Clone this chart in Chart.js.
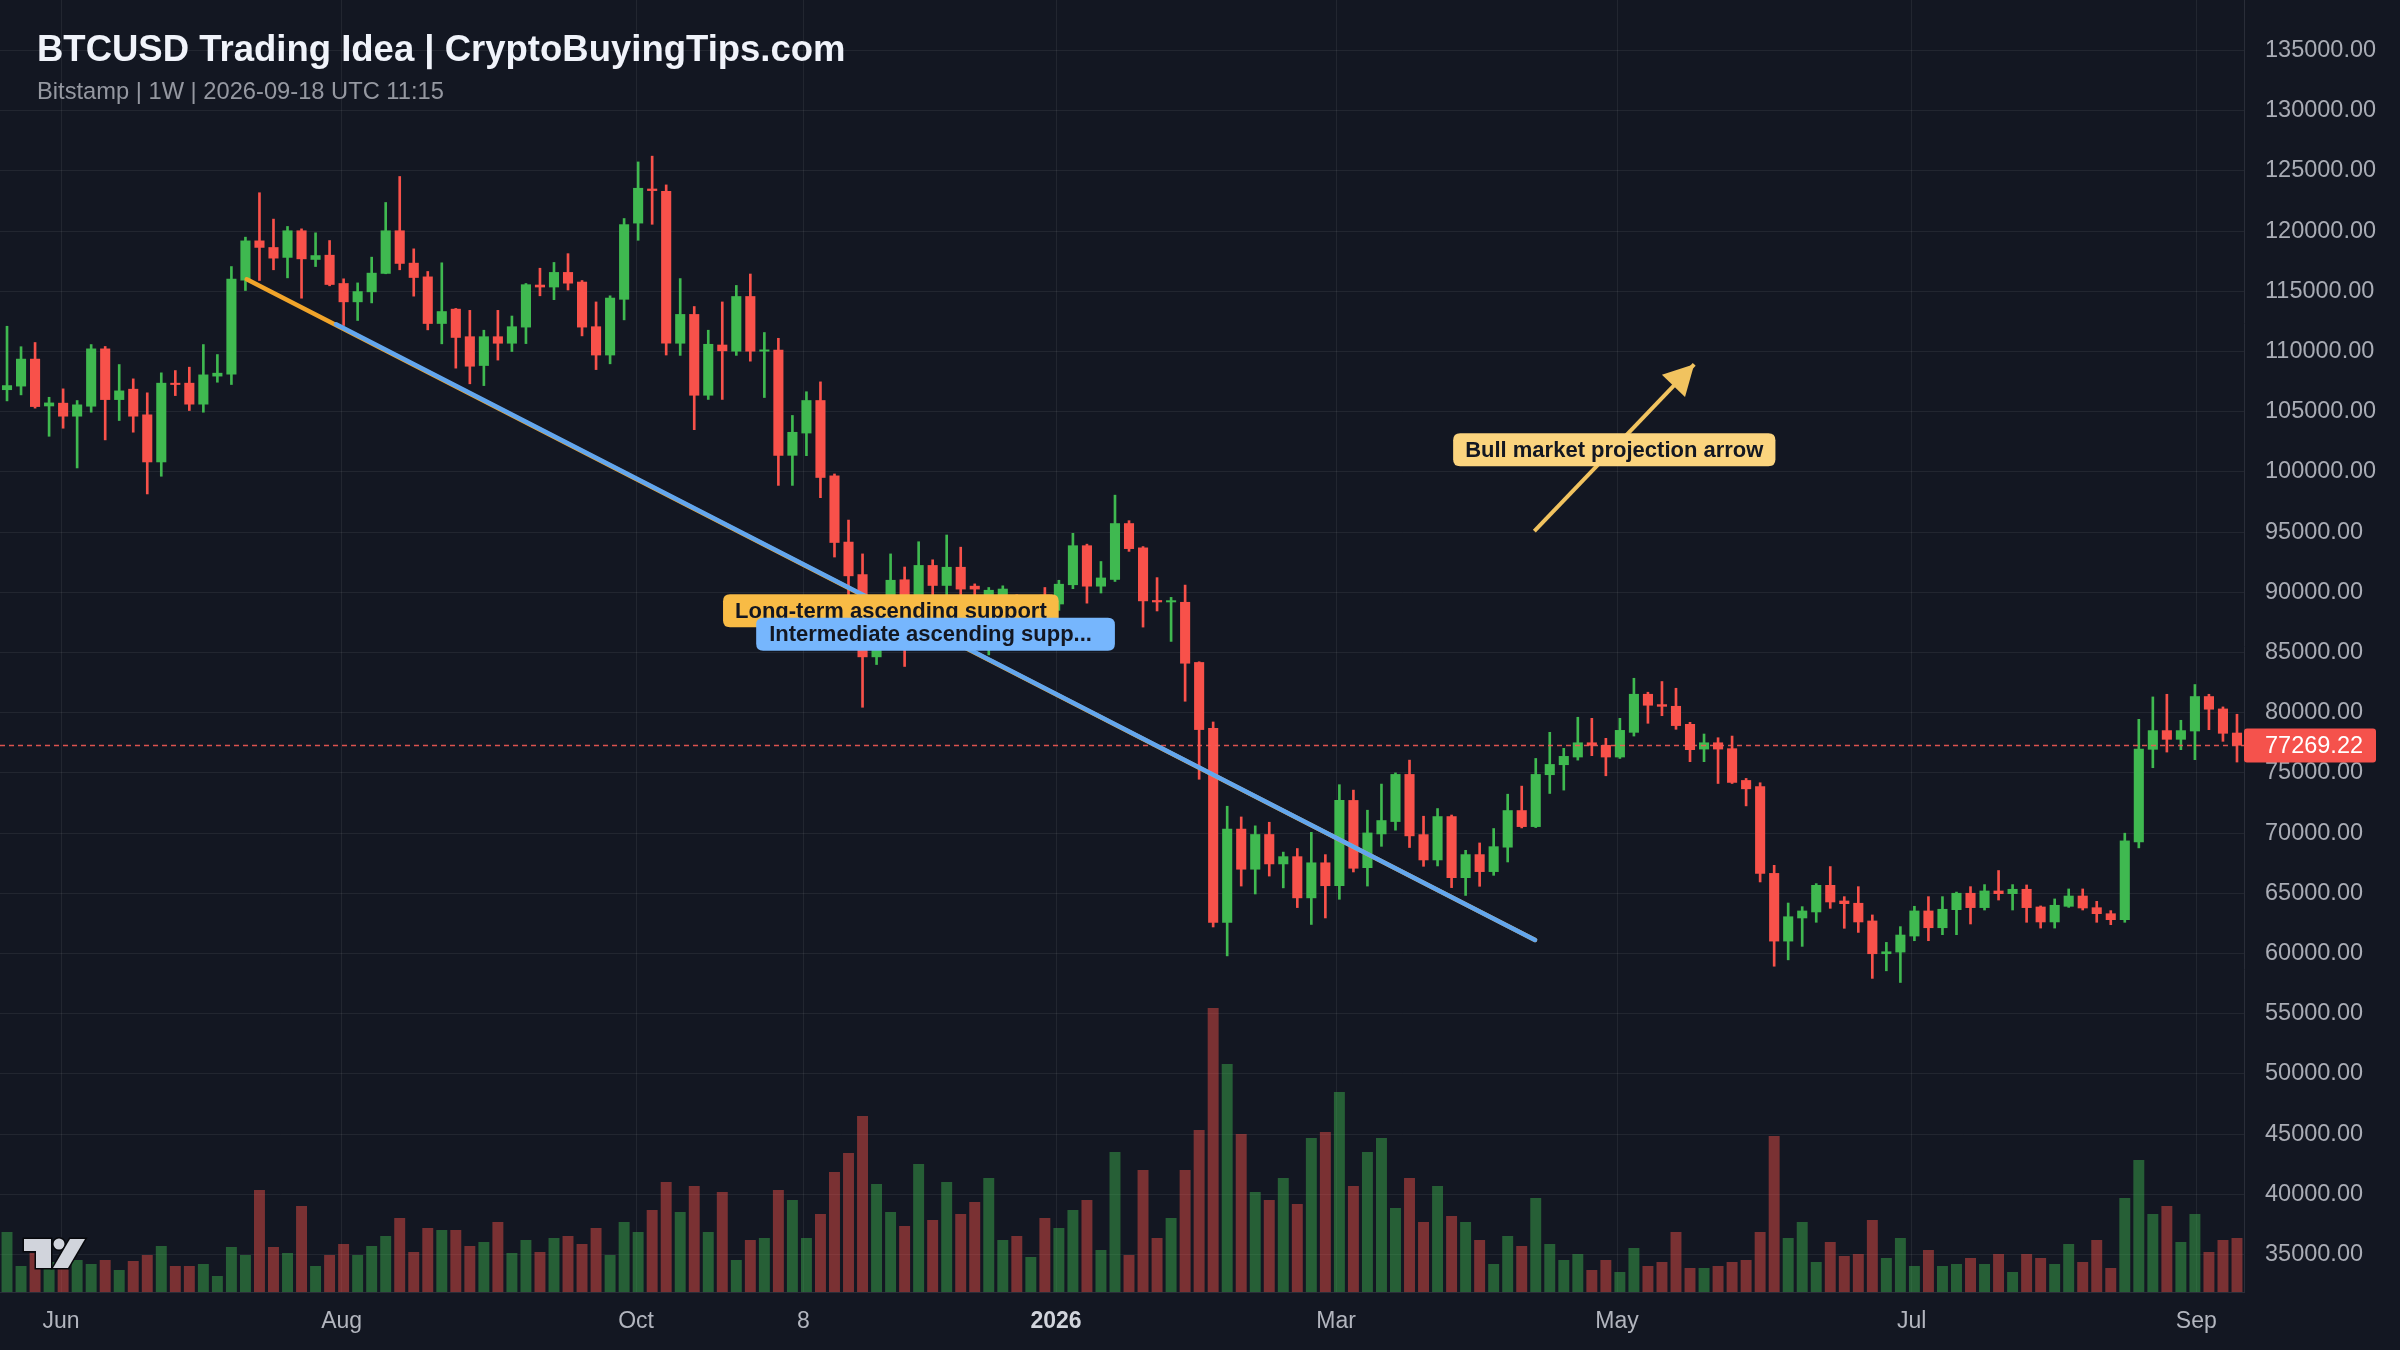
<!DOCTYPE html>
<html>
<head>
<meta charset="utf-8">
<title>BTCUSD Trading Idea</title>
<style>
  html, body { margin: 0; padding: 0; background: #131722; }
  #wrap { position: relative; width: 2400px; height: 1350px; overflow: hidden; }
  #chart { position: absolute; left: 0; top: 0; width: 2400px; height: 1350px; }
  #title { position: absolute; left: 37px; top: 31px; font: bold 36.5px "Liberation Sans", Arial, sans-serif; line-height: 36px; color: #f0f3fa; white-space: nowrap; }
  #subtitle { position: absolute; left: 37px; top: 80px; font: 23.7px "Liberation Sans", Arial, sans-serif; line-height: 23px; color: #9598a1; white-space: nowrap; }
</style>
<script src="https://cdn.jsdelivr.net/npm/chart.js@4.4.1/dist/chart.umd.min.js"></script>
</head>
<body>
<div id="wrap">
  <canvas id="chart" width="2400" height="1350"></canvas>
  <div id="title">BTCUSD Trading Idea | CryptoBuyingTips.com</div>
  <div id="subtitle">Bitstamp | 1W | 2026-09-18 UTC 11:15</div>
</div>
<script>
// price axis ticks and time axis labels (positions are candle indexes)
var priceTicks = [35000, 40000, 45000, 50000, 55000, 60000, 65000, 70000, 75000, 80000,
                  85000, 90000, 95000, 100000, 105000, 110000, 115000, 120000, 125000, 130000, 135000];
var timeTickPos = [3.85, 23.86, 44.85, 56.79, 74.8, 94.76, 114.8, 135.8, 156.1];
var timeTickLabels = ['Jun', 'Aug', 'Oct', '8', '2026', 'Mar', 'May', 'Jul', 'Sep'];

// OHLC per candle
var opens = [
  106800,107100,109400,105450,105740,104600,105430,110250,105980,106900,
  104770,100800,107400,107400,105600,107930,108090,115900,119220,118670,
  117790,120060,117620,118030,115680,114100,114930,116460,120060,117370,
  116230,112300,113550,111260,108810,111260,110660,112000,115550,115330,
  116600,115800,112090,109680,114310,120640,123530,123340,110660,113110,
  106340,110570,110000,114600,110000,110150,101350,103200,105960,99700,
  94200,91500,84610,88000,91070,88500,92260,90540,92110,90540,
  89500,89600,89300,88700,89800,89000,90600,93900,90480,91040,
  95740,93720,89350,89170,89200,84200,78720,62560,70360,66970,
  69910,67410,68070,64590,67560,65600,72740,67100,69900,70930,
  74900,69900,67740,71400,66270,68240,66770,68800,71900,70510,
  74820,75650,76290,77530,77320,76290,78340,81560,80700,80560,
  79060,76950,77530,77040,74400,73900,66680,61000,62920,63420,
  65690,64390,64200,62730,59950,60090,61420,63560,62110,63610,
  65030,63780,65220,64940,65360,63890,62590,63890,64800,63830,
  63330,62780,69240,76930,78540,77760,78450,81370,80340,78340
];
var highs = [
  112100,110400,110750,106200,106900,105930,110580,110420,108920,107730,
  106570,108230,108420,108700,110580,109750,117060,119500,123190,121000,
  120390,120190,119860,119220,116040,115700,117840,122380,124540,118530,
  116650,117370,113580,113420,111770,113420,112950,115650,116920,117400,
  118130,115900,114120,114630,121050,125750,126230,123840,116060,113740,
  111770,114120,115490,116440,111580,111100,104690,106660,107480,99830,
  96000,93190,89500,93190,92100,94200,92700,94760,93750,90700,
  90400,90540,89800,89700,90400,91000,94900,94000,92560,98070,
  95950,93800,91220,89580,90600,84230,79230,72230,71340,70600,
  70900,68420,68720,70060,68210,74020,73570,71900,74070,75000,
  76060,71400,72040,71500,68570,69180,70380,73230,73900,76200,
  78370,77040,79620,79530,77870,79530,82860,81700,82590,82030,
  79200,78230,77920,78060,74540,74180,67320,64190,63890,65800,
  67220,64720,65550,63200,60920,62230,63920,64720,64720,65100,
  65550,65720,66890,65720,65690,63950,64530,65360,65360,64330,
  63560,69990,79450,81310,81530,79370,82340,81530,80480,79870
];
var lows = [
  105900,106400,105300,102960,103630,100330,104960,102660,104270,103300,
  98170,99640,106340,105100,104960,107450,107260,115070,115900,116790,
  116120,114430,117060,115460,112160,112580,114040,116460,116790,114600,
  111800,110640,108620,107320,107170,109290,110000,110660,114630,114310,
  115110,111300,108500,108980,112630,119240,120570,109710,109680,103510,
  106020,106020,109680,109200,106180,98880,98880,101350,97860,92930,
  89500,80450,84000,87000,83840,87500,89000,89500,89500,89000,
  84800,88500,88000,88000,88300,88500,90300,89100,89940,90900,
  93400,87110,88450,85920,80950,74470,62200,59800,65600,64940,
  66430,65450,63810,62410,62950,64500,66770,65600,68900,70240,
  68800,67240,67270,65470,64820,65580,66490,67600,70430,70460,
  73290,73570,76060,76430,74760,76200,78060,79120,79750,78620,
  75930,75930,74120,74120,72260,65940,58940,59470,60590,62590,
  63750,62090,61750,57930,58560,57590,61060,61060,61560,61560,
  62450,63610,64440,63610,62590,62110,62110,63830,63610,62590,
  62390,62590,68770,75430,76730,76930,76100,78590,77620,75900
];
var closes = [
  107200,109400,105400,105760,104600,105600,110250,105980,106760,104600,
  100800,107400,107230,105600,108090,108230,116040,119220,118620,117730,
  120060,117670,118000,115540,114100,115010,116540,120060,117290,116120,
  112300,113350,111140,108750,111260,110660,112090,115580,115330,116600,
  115650,112000,109680,114470,120570,123590,123340,110660,113110,106340,
  110630,110030,114600,110000,110150,101350,103320,105960,99510,94110,
  91340,84610,88000,91030,88500,92260,90540,92110,90240,90240,
  90200,90300,88700,89200,89000,90700,93900,90480,91220,95740,
  93600,89260,89170,89290,84080,78570,62560,70360,66970,69910,
  67410,68070,64590,67560,65600,72740,67050,70040,71070,74900,
  69740,67740,71400,66270,68240,66770,68900,71900,70510,74900,
  75730,76400,77530,77260,76290,78560,81560,80590,80500,78900,
  76900,77530,76950,74180,73650,66630,61000,63080,63560,65690,
  64250,64110,62590,59950,60170,61560,63560,62110,63700,65030,
  63780,65220,64940,65360,63780,62590,64030,64800,63750,63280,
  62780,69380,77010,78540,77760,78540,81370,80260,78260,77269.22
];
var volumes = [
  6000,2600,3900,3000,2800,3200,2800,3200,2200,3100,
  3700,4600,2600,2600,2800,1600,4500,3700,10200,4500,
  3900,8600,2600,3700,4800,3700,4600,5600,7400,4000,
  6400,6200,6200,4600,5000,7000,3900,5200,4000,5400,
  5600,4800,6400,3700,7000,6000,8200,11000,8000,10600,
  6000,10000,3200,5200,5400,10200,9200,5400,7800,12000,
  13900,17600,10800,8000,6600,12800,7200,11000,7800,9000,
  11400,5200,5600,3500,7400,6400,8200,9200,4200,14000,
  3700,12200,5400,7400,12200,16200,28400,22800,15800,10000,
  9200,11400,8800,15400,16000,20000,10600,14000,15400,8400,
  11400,7000,10600,7600,7000,5200,2800,5600,4600,9400,
  4800,3200,3800,2200,3200,2000,4400,2600,3000,6000,
  2400,2400,2600,3000,3200,6000,15600,5400,7000,3000,
  5000,3600,3800,7200,3400,5400,2600,4200,2600,2800,
  3400,2800,3800,2000,3800,3400,2800,4800,3000,5200,
  2400,9400,13200,7800,8600,5000,7800,4000,5200,5400
];
var lastPrice = 77269.22;

// drawings: [candle index, price]
var longTermLine = [{ x: 17.09, y: 116000 }, { x: 108.95, y: 61120 }];
var intermediateLine = [{ x: 23.46, y: 112260 }, { x: 108.95, y: 61120 }];
var bullArrow = [{ x: 108.9, y: 95090 }, { x: 120.3, y: 108940 }];

var FONT = '"Liberation Sans", Arial, sans-serif';
var UP = '#3fb950', DOWN = '#f8514a';
var UP_VOL = 'rgba(63,185,80,0.45)', DOWN_VOL = 'rgba(248,81,73,0.45)';
var GRID = 'rgba(255,255,255,0.065)';

var bodies = [], wicks = [], vols = [], candleColors = [], volColors = [];
for (var i = 0; i < closes.length; i++) {
    var up = closes[i] >= opens[i];
    bodies.push({ x: i, y: [opens[i], closes[i]] });
    wicks.push({ x: i, y: [lows[i], highs[i]] });
    vols.push({ x: i, y: volumes[i] });
    candleColors.push(up ? UP : DOWN);
    volColors.push(up ? UP_VOL : DOWN_VOL);
}

function roundRect(ctx, x, y, w, h, r) {
    ctx.beginPath();
    ctx.moveTo(x + r, y);
    ctx.lineTo(x + w - r, y);
    ctx.quadraticCurveTo(x + w, y, x + w, y + r);
    ctx.lineTo(x + w, y + h - r);
    ctx.quadraticCurveTo(x + w, y + h, x + w - r, y + h);
    ctx.lineTo(x + r, y + h);
    ctx.quadraticCurveTo(x, y + h, x, y + h - r);
    ctx.lineTo(x, y + r);
    ctx.quadraticCurveTo(x, y, x + r, y);
    ctx.closePath();
}

// tag box centred on (cx, cy); padL / padR are the side margins
function drawTag(ctx, text, cx, cy, bg, padL, padR) {
    ctx.font = 'bold 22px ' + FONT;
    var tw = ctx.measureText(text).width;
    var w = tw + padL + padR;
    var h = 33;
    var left = cx - w / 2;
    ctx.fillStyle = bg;
    roundRect(ctx, left, cy - h / 2, w, h, 7);
    ctx.fill();
    ctx.fillStyle = '#131722';
    ctx.textAlign = 'left';
    ctx.textBaseline = 'middle';
    ctx.fillText(text, left + padL, cy + 1);
}

// labels, arrow head, last price tag and logo
var overlayPlugin = {
    id: 'overlay',
    afterDatasetsDraw: function (chart) {
        var ctx = chart.ctx, area = chart.chartArea;
        var xs = chart.scales.x, ys = chart.scales.y;
        function px(p) { return [xs.getPixelForValue(p.x), ys.getPixelForValue(p.y)]; }

        ctx.save();
        // arrow head
        var a0 = px(bullArrow[0]), a1 = px(bullArrow[1]);
        var ang = Math.atan2(a1[1] - a0[1], a1[0] - a0[0]);
        var L = 30, W = 16;
        ctx.fillStyle = '#f1c35f';
        ctx.beginPath();
        ctx.moveTo(a1[0], a1[1]);
        ctx.lineTo(a1[0] - L * Math.cos(ang) + W * Math.sin(ang), a1[1] - L * Math.sin(ang) - W * Math.cos(ang));
        ctx.lineTo(a1[0] - L * Math.cos(ang) - W * Math.sin(ang), a1[1] - L * Math.sin(ang) + W * Math.cos(ang));
        ctx.closePath();
        ctx.fill();

        // tags at line midpoints
        var l0 = px(longTermLine[0]), l1 = px(longTermLine[1]);
        drawTag(ctx, 'Long-term ascending support', (l0[0] + l1[0]) / 2, (l0[1] + l1[1]) / 2 + 1, '#f8bb45', 12, 12);
        var m0 = px(intermediateLine[0]), m1 = px(intermediateLine[1]);
        drawTag(ctx, 'Intermediate ascending supp...', (m0[0] + m1[0]) / 2, (m0[1] + m1[1]) / 2 + 2, '#76b6fd', 13, 23);
        drawTag(ctx, 'Bull market projection arrow', (a0[0] + a1[0]) / 2, (a0[1] + a1[1]) / 2 + 2, '#fbd47e', 12, 12);

        // last price tag on the axis
        var py = ys.getPixelForValue(lastPrice);
        ctx.fillStyle = '#f5524c';
        roundRect(ctx, area.right, py - 17, 132, 34, 3);
        ctx.fill();
        ctx.fillStyle = '#ffffff';
        ctx.font = '23.5px ' + FONT;
        ctx.textAlign = 'left';
        ctx.textBaseline = 'middle';
        ctx.fillText(lastPrice.toFixed(2), area.right + 21, py + 1);

        // TradingView style logo
        ctx.fillStyle = '#d1d4dc';
        ctx.strokeStyle = '#07080c';
        ctx.lineWidth = 3;
        ctx.beginPath();
        ctx.moveTo(24, 1239); ctx.lineTo(51, 1239); ctx.lineTo(51, 1268); ctx.lineTo(36, 1268);
        ctx.lineTo(36, 1251); ctx.lineTo(24, 1251); ctx.closePath();
        ctx.stroke(); ctx.fill();
        ctx.beginPath();
        ctx.arc(59, 1244, 5.5, 0, Math.PI * 2);
        ctx.stroke(); ctx.fill();
        ctx.beginPath();
        ctx.moveTo(70, 1239); ctx.lineTo(85, 1239); ctx.lineTo(68, 1268); ctx.lineTo(53, 1268);
        ctx.closePath();
        ctx.stroke(); ctx.fill();
        ctx.restore();
    }
};

var chart = new Chart(document.getElementById('chart'), {
    type: 'bar',
    data: {
        datasets: [
            {
                type: 'line', label: 'intermediate', data: intermediateLine,
                borderColor: '#62a6ee', borderWidth: 4.5, borderCapStyle: 'round',
                pointRadius: 0, order: 0, yAxisID: 'y'
            },
            {
                type: 'line', label: 'longterm', data: longTermLine,
                borderColor: '#f0a42a', borderWidth: 4.5, borderCapStyle: 'round',
                pointRadius: 0, order: 1, yAxisID: 'y'
            },
            {
                type: 'line', label: 'arrow', data: bullArrow,
                borderColor: '#f1c35f', borderWidth: 4, borderCapStyle: 'butt',
                pointRadius: 0, order: 0, yAxisID: 'y'
            },
            {
                type: 'line', label: 'last',
                data: [{ x: -0.5, y: lastPrice }, { x: 159.5, y: lastPrice }],
                borderColor: 'rgba(242,90,83,0.9)', borderWidth: 1.5, borderDash: [5, 4],
                pointRadius: 0, order: 0, yAxisID: 'y'
            },
            {
                label: 'body', data: bodies, backgroundColor: candleColors,
                grouped: false, barPercentage: 0.72, categoryPercentage: 1,
                minBarLength: 2, order: 2, yAxisID: 'y'
            },
            {
                label: 'wick', data: wicks, backgroundColor: candleColors,
                grouped: false, barPercentage: 1, categoryPercentage: 1,
                maxBarThickness: 2, order: 3, yAxisID: 'y'
            },
            {
                label: 'volume', data: vols, backgroundColor: volColors,
                grouped: false, barPercentage: 0.78, categoryPercentage: 1,
                order: 4, yAxisID: 'yv'
            }
        ]
    },
    options: {
        responsive: false,
        devicePixelRatio: 1,
        animation: false,
        layout: { padding: 0, autoPadding: false },
        plugins: { legend: { display: false }, tooltip: { enabled: false }, title: { display: false } },
        scales: {
            x: {
                type: 'linear', min: -0.5, max: 159.5, offset: false,
                afterBuildTicks: function (s) { s.ticks = timeTickPos.map(function (v) { return { value: v }; }); },
                afterFit: function (s) { s.height = 58; s.paddingLeft = 0; s.paddingRight = 0; },
                grid: { color: GRID, drawTicks: false, offset: false },
                border: { display: true, color: '#2a2e39' },
                ticks: {
                    autoSkip: false, maxRotation: 0, padding: 16,
                    color: function (c) { return c.index === 4 ? '#d1d4dc' : '#b2b5be'; },
                    font: function (c) { return { family: FONT, size: 23, weight: c.index === 4 ? 'bold' : 'normal' }; },
                    callback: function (v, idx) { return timeTickLabels[idx]; }
                }
            },
            y: {
                type: 'linear', position: 'right', min: 31880, max: 139200,
                afterBuildTicks: function (s) { s.ticks = priceTicks.map(function (v) { return { value: v }; }); },
                afterFit: function (s) { s.width = 156; s.paddingTop = 0; s.paddingBottom = 0; },
                grid: { color: GRID, drawTicks: false },
                border: { display: true, color: '#2a2e39' },
                ticks: {
                    padding: 21, color: '#a9acb5', font: { family: FONT, size: 23.5 },
                    callback: function (v) { return Number(v).toFixed(2); }
                }
            },
            yv: { type: 'linear', display: false, min: 0, max: 129200 }
        }
    },
    plugins: [overlayPlugin]
});
</script>
</body>
</html>
